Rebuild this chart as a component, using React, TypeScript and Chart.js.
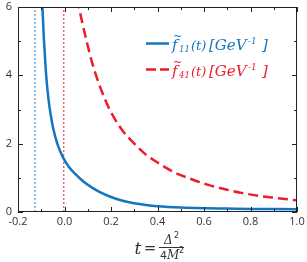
import React, { useEffect, useRef } from "react";
import { Chart, registerables } from "chart.js";

Chart.register(...registerables);

// ---- data ----
const xMin = -0.2;
const xMax = 1.0;
const yMin = 0;
const yMax = 6;
const xMajorStep = 0.2;
const xMinorStep = 0.1;
const yMajorStep = 2;
const yMinorStep = 1;

const blueT = [-0.1, -0.095, -0.08, -0.068, -0.06, -0.049, -0.03, -0.006, 0.02, 0.045, 0.08, 0.117, 0.15, 0.2, 0.25, 0.3, 0.35, 0.4, 0.5, 0.6, 0.7, 0.8, 0.9, 1.0];
const blueF = [7.1, 6.0, 4.1, 3.25, 2.87, 2.46, 1.98, 1.59, 1.31, 1.12, 0.9, 0.72, 0.59, 0.44, 0.33, 0.255, 0.205, 0.17, 0.13, 0.11, 0.1, 0.09, 0.085, 0.08];

const redT = [0.055, 0.062, 0.088, 0.124, 0.174, 0.21, 0.25, 0.3, 0.35, 0.4, 0.47, 0.55, 0.615, 0.7, 0.76, 0.85, 0.9, 1.0];
const redF = [6.25, 6.0, 5.2, 4.25, 3.3, 2.8, 2.38, 2.0, 1.68, 1.45, 1.17, 0.95, 0.8, 0.65, 0.56, 0.46, 0.42, 0.34];

const bluePoleT = -0.127;
const redPoleT = -0.003;

const legendSubs = ["11", "41"];

const BLUE = "#1377c0";
const RED = "#ec1c2a";
const INK = "#333333";

function drawLegendEntry(ctx: CanvasRenderingContext2D, x: number, y: number, color: string, dash: number[], sub: string) {
  ctx.save();
  ctx.strokeStyle = color;
  ctx.lineWidth = 2.5;
  ctx.setLineDash(dash);
  ctx.beginPath();
  ctx.moveTo(x, y);
  ctx.lineTo(x + 23, y);
  ctx.stroke();
  ctx.setLineDash([]);
  ctx.fillStyle = color;
  ctx.textAlign = "left";
  ctx.textBaseline = "alphabetic";
  const base = y + 6;
  ctx.font = 'italic 15px "DejaVu Serif"';
  ctx.fillText("f", x + 26, base);
  ctx.font = '11px "DejaVu Serif"';
  ctx.fillText("~", x + 27, base - 10);
  ctx.font = 'italic 8.5px "DejaVu Serif"';
  ctx.fillText(sub, x + 33, base + 2);
  ctx.font = 'italic 13px "DejaVu Serif"';
  ctx.fillText("(t)", x + 45, base);
  ctx.font = 'italic 15px "DejaVu Serif"';
  ctx.fillText("[GeV", x + 63, base);
  ctx.font = 'italic 9px "DejaVu Serif"';
  ctx.fillText("-1", x + 102, base - 6);
  ctx.font = 'italic 15px "DejaVu Serif"';
  ctx.fillText("]", x + 116, base);
  ctx.restore();
}

const decorPlugin = {
  id: "decor",
  afterDraw(chart: any) {
    const ctx: CanvasRenderingContext2D = chart.ctx;
    const { left, right, top, bottom } = chart.chartArea;
    const xs = chart.scales.x;
    const ys = chart.scales.y;
    ctx.save();
    ctx.strokeStyle = "#222";
    ctx.lineWidth = 1;
    ctx.setLineDash([]);
    ctx.strokeRect(Math.round(left) + 0.5, Math.round(top) + 0.5, Math.round(right - left) - 1, Math.round(bottom - top) - 1);
    ctx.beginPath();
    const nx = Math.round((xMax - xMin) / xMinorStep);
    for (let i = 0; i <= nx; i++) {
      const v = xMin + i * xMinorStep;
      const major = i % Math.round(xMajorStep / xMinorStep) === 0;
      const len = major ? 5 : 3;
      const px = Math.round(xs.getPixelForValue(v)) + 0.5;
      ctx.moveTo(px, bottom);
      ctx.lineTo(px, bottom - len);
      ctx.moveTo(px, top);
      ctx.lineTo(px, top + len);
    }
    const ny = Math.round((yMax - yMin) / yMinorStep);
    for (let i = 0; i <= ny; i++) {
      const v = yMin + i * yMinorStep;
      const major = i % Math.round(yMajorStep / yMinorStep) === 0;
      const len = major ? 5 : 3;
      const py = Math.round(ys.getPixelForValue(v)) + 0.5;
      ctx.moveTo(left, py);
      ctx.lineTo(left + len, py);
      ctx.moveTo(right, py);
      ctx.lineTo(right - len, py);
    }
    ctx.stroke();

    // legend
    drawLegendEntry(ctx, 146, 43.5, BLUE, [], legendSubs[0]);
    drawLegendEntry(ctx, 146, 69.5, RED, [10, 4], legendSubs[1]);

    // x axis title: t = Δ² / 4M²
    ctx.fillStyle = INK;
    ctx.strokeStyle = INK;
    ctx.textBaseline = "alphabetic";
    ctx.textAlign = "center";
    ctx.font = 'italic 17px "DejaVu Serif"';
    ctx.fillText("t", 138, 254);
    ctx.font = '15px "DejaVu Sans"';
    ctx.fillText("=", 150, 253);
    ctx.lineWidth = 1;
    ctx.beginPath();
    ctx.moveTo(159, 247.5);
    ctx.lineTo(184, 247.5);
    ctx.stroke();
    ctx.textAlign = "left";
    ctx.font = 'italic 12px "DejaVu Serif"';
    ctx.fillText("Δ", 164, 244);
    ctx.font = '8px "DejaVu Sans"';
    ctx.fillText("2", 174, 238);
    ctx.font = '11px "DejaVu Sans"';
    ctx.fillText("4", 160, 259);
    ctx.font = 'italic 12px "DejaVu Serif"';
    ctx.fillText("M", 167, 259);
    ctx.font = '8px "DejaVu Sans"';
    ctx.fillText("2", 179, 253);
    ctx.restore();
  },
};

export default function App() {
  const ref = useRef<HTMLCanvasElement | null>(null);
  useEffect(() => {
    document.body.style.margin = "0";
    const canvas = ref.current;
    if (!canvas) return;
    const chart = new Chart(canvas, {
      type: "line",
      data: {
        datasets: [
          {
            data: blueT.map((t, i) => ({ x: t, y: blueF[i] })),
            borderColor: BLUE,
            borderWidth: 2.5,
            pointRadius: 0,
            cubicInterpolationMode: "monotone",
          },
          {
            data: redT.map((t, i) => ({ x: t, y: redF[i] })),
            borderColor: RED,
            borderWidth: 2.5,
            borderDash: [10, 5],
            pointRadius: 0,
            cubicInterpolationMode: "monotone",
          },
          {
            data: [{ x: bluePoleT, y: yMin }, { x: bluePoleT, y: yMax }],
            borderColor: BLUE,
            borderWidth: 1,
            borderDash: [2, 2],
            pointRadius: 0,
          },
          {
            data: [{ x: redPoleT, y: yMin }, { x: redPoleT, y: yMax }],
            borderColor: RED,
            borderWidth: 1,
            borderDash: [2, 2],
            pointRadius: 0,
          },
        ],
      },
      options: {
        responsive: false,
        animation: false,
        layout: { padding: { top: 7, right: 10, left: 0, bottom: 0 } },
        plugins: { legend: { display: false }, tooltip: { enabled: false } },
        scales: {
          x: {
            type: "linear",
            min: xMin,
            max: xMax,
            grid: { display: false, drawTicks: false },
            border: { display: false },
            ticks: {
              stepSize: xMajorStep,
              color: INK,
              font: { family: "Open Sans", size: 11 },
              padding: 3,
              maxRotation: 0,
              callback: (v: any) => {
                const n = Math.abs(Number(v)) < 1e-9 ? 0 : Number(v);
                return n.toFixed(1);
              },
            },
            afterFit: (s: any) => {
              s.height = 50;
              s.paddingLeft = 0;
              s.paddingRight = 0;
            },
          },
          y: {
            min: yMin,
            max: yMax,
            grid: { display: false, drawTicks: false },
            border: { display: false },
            ticks: {
              stepSize: yMajorStep,
              color: INK,
              font: { family: "Open Sans", size: 11 },
              padding: 6,
              callback: (v: any) => String(v),
            },
            afterFit: (s: any) => {
              s.width = 18;
              s.paddingTop = 0;
              s.paddingBottom = 0;
            },
          },
        },
      },
      plugins: [decorPlugin],
    } as any);
    return () => chart.destroy();
  }, []);
  return <canvas ref={ref} width={307} height={262} style={{ display: "block", width: 307, height: 262 }} />;
}
